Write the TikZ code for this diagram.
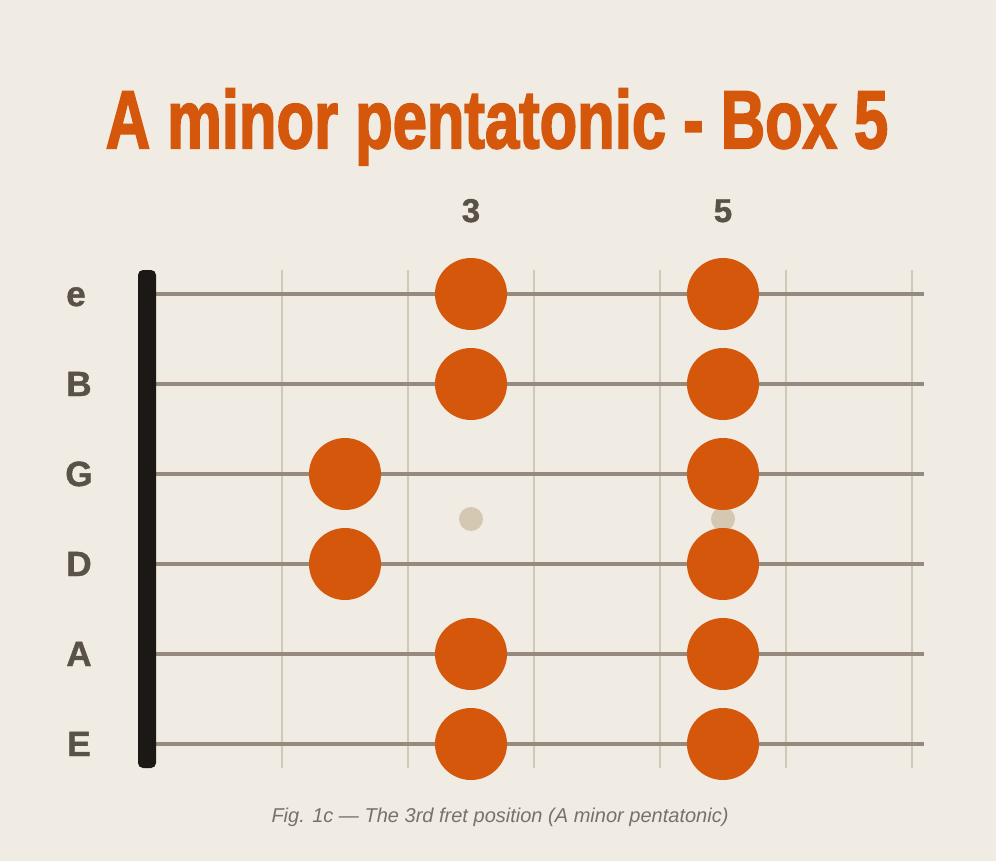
\documentclass[tikz,border=0pt]{standalone}
\usepackage{fontspec}
\setmainfont{Liberation Sans}
\newfontfamily\heavyfont[BoldFeatures={FakeBold=1.2}]{Liberation Sans}
\newfontfamily\titlefont[BoldFeatures={FakeBold=2.5}]{Liberation Sans}
\usepackage{graphicx}
\definecolor{bg}{HTML}{F0ECE4}
\definecolor{orng}{HTML}{D4570B}
\definecolor{nutc}{HTML}{1C1815}
\definecolor{lbl}{HTML}{5A5148}
\definecolor{strc}{HTML}{968A7E}
\definecolor{fretc}{HTML}{D2C8B7}
\definecolor{inlay}{HTML}{D4C8B3}
\definecolor{capc}{HTML}{7A7069}
\tikzset{
  note/.style={circle,fill=orng,minimum size=72pt,inner sep=0pt,draw=none},
  inlaydot/.style={circle,fill=inlay,minimum size=24pt,inner sep=0pt,draw=none},
  strlabel/.style={anchor=base,text=lbl,font=\heavyfont\fontsize{35}{35}\selectfont\bfseries,inner sep=0pt},
  fretnum/.style={anchor=base,text=lbl,font=\heavyfont\fontsize{33}{33}\selectfont\bfseries,inner sep=0pt},
  stringline/.style={draw=strc,line width=3.2pt},
  fretline/.style={draw=fretc,line width=2.6pt},
}
\begin{document}
\begin{tikzpicture}[x=1pt,y=-1pt]
\fill[bg] (0,0) rectangle (996,861);
\useasboundingbox (0,0) rectangle (996,861);
% title
\node[anchor=base,text=orng,inner sep=0pt] (title) at (497,148)
  {\scalebox{0.75}[1]{\titlefont\fontsize{82}{82}\selectfont\bfseries A minor pentatonic - Box 5}};
% fret numbers
\node[fretnum] (f3) at (471,222) {3};
\node[fretnum] (f5) at (723,222) {5};
% frets
\foreach \x/\n in {282/1,408/2,534/3,660/4,786/5,912/6}{
  \coordinate (ft\n) at (\x,270);
  \coordinate (fb\n) at (\x,768);
  \draw[fretline] (ft\n) -- (fb\n);
}
% inlays
\node[inlaydot] (in3) at (471,519) {};
\node[inlaydot] (in5) at (723,519) {};
% strings
\foreach \y/\n in {294/1,384/2,474/3,564/4,654/5,744/6}{
  \coordinate (sl\n) at (150,\y);
  \coordinate (sr\n) at (924,\y);
  \draw[stringline] (sl\n) -- (sr\n);
}
\node[strlabel] (le) at (76,306) {e};
\node[strlabel] (lB) at (79,396) {B};
\node[strlabel] (lG) at (79,486) {G};
\node[strlabel] (lD) at (79,576) {D};
\node[strlabel] (lA) at (79,666) {A};
\node[strlabel] (lE) at (79,756) {E};
% nut
\fill[nutc,rounded corners=5pt] (138,270) rectangle (156,768);
% notes
\node[note] (n1a) at (471,294) {};
\node[note] (n1b) at (723,294) {};
\node[note] (n2a) at (471,384) {};
\node[note] (n2b) at (723,384) {};
\node[note] (n3a) at (345,474) {};
\node[note] (n3b) at (723,474) {};
\node[note] (n4a) at (345,564) {};
\node[note] (n4b) at (723,564) {};
\node[note] (n5a) at (471,654) {};
\node[note] (n5b) at (723,654) {};
\node[note] (n6a) at (471,744) {};
\node[note] (n6b) at (723,744) {};
% caption
\node[anchor=base,text=capc,inner sep=0pt] (cap) at (500,822)
  {\resizebox{457pt}{!}{\fontsize{19}{19}\selectfont\itshape Fig. 1c — The 3rd fret position (A minor pentatonic)}};
\end{tikzpicture}
\end{document}
